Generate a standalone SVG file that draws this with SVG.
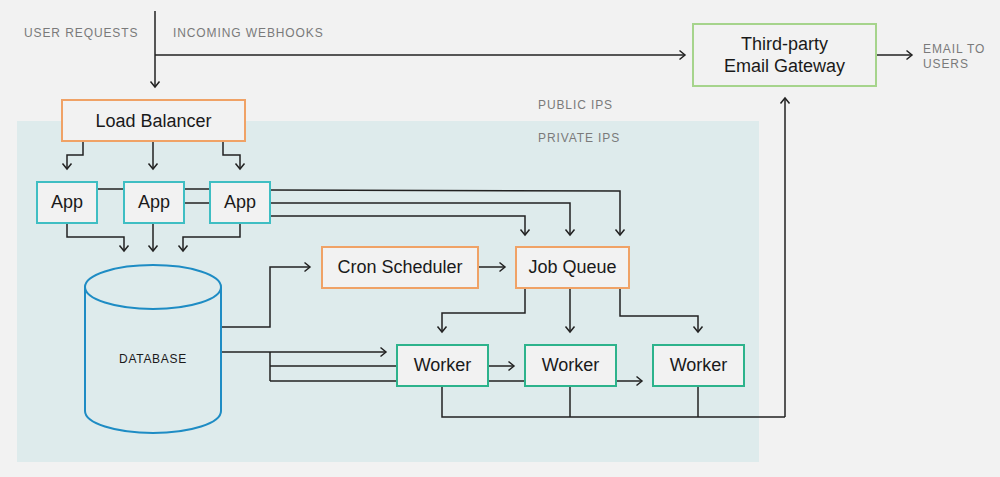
<svg xmlns="http://www.w3.org/2000/svg" width="1000" height="477" viewBox="0 0 1000 477">
<defs>
<marker id="arr" markerUnits="userSpaceOnUse" markerWidth="14" markerHeight="14" viewBox="-8 -7 10 14" refX="0" refY="0" orient="auto">
<path d="M-5.5,-4.5 L0,0 L-5.5,4.5" fill="none" stroke="#222" stroke-width="1.5"/>
</marker>
<style>
.lbl{font-family:"Liberation Sans",Arial,sans-serif;font-size:12px;letter-spacing:0.9px;fill:#7a7a7a}
.t{font-family:"Liberation Sans",Arial,sans-serif;font-size:18px;fill:#1a1a1a;text-anchor:middle}
.box{fill:#f2f2f2;stroke-width:2}
.or{stroke:#f0a266}
.tl{stroke:#3fbec3}
.gr{stroke:#2db38c}
.lg{stroke:#a6d48c}
.ln{fill:none;stroke:#222;stroke-width:1.5}
.a{marker-end:url(#arr)}
</style>
</defs>
<rect width="1000" height="477" fill="#f2f2f2"/>
<rect x="17" y="121" width="742" height="341" fill="#deebec"/>

<g id="labels">
<text class="lbl" x="24" y="37">USER REQUESTS</text>
<text class="lbl" x="173" y="37">INCOMING WEBHOOKS</text>
<text class="lbl" x="538" y="109">PUBLIC IPS</text>
<text class="lbl" x="538" y="142">PRIVATE IPS</text>
<text class="lbl" x="923" y="53">EMAIL TO</text>
<text class="lbl" x="923" y="68">USERS</text>
</g>

<g id="connectors">
<path class="ln a" d="M155,11 V87"/>
<path class="ln a" d="M155,55 H685"/>
<path class="ln a" d="M876,55 H912"/>
<!-- LB to apps -->
<path class="ln a" d="M83,141 V155 H67 V169"/>
<path class="ln a" d="M153,141 V169"/>
<path class="ln a" d="M223,141 V155 H240 V169"/>
<!-- app interconnect -->
<path class="ln" d="M97,189 H124"/>
<path class="ln" d="M184,189 H210"/>
<path class="ln" d="M184,203 H210"/>
<path class="ln a" d="M270,190 L620,191 V235"/>
<path class="ln a" d="M270,203 H570 V235"/>
<path class="ln a" d="M270,216 H525 V235"/>
<!-- apps to db -->
<path class="ln a" d="M67,223 V237 H124 V251"/>
<path class="ln a" d="M153,223 V251"/>
<path class="ln a" d="M240,223 V237 H183 V251"/>
<!-- db to cron -->
<path class="ln a" d="M221,327 H270 V267 H310"/>
<path class="ln a" d="M478,267 H505"/>
<!-- job queue to workers -->
<path class="ln a" d="M525,288 V313 H442 V332"/>
<path class="ln a" d="M570,288 V332"/>
<path class="ln a" d="M620,288 V316 H698 V332"/>
<!-- db to workers -->
<path class="ln a" d="M221,352 H386"/>
<path class="ln" d="M270,352 V381"/>
<path class="ln" d="M270,366 H397"/>
<path class="ln a" d="M488,366 H514"/>
<path class="ln" d="M270,381 H397"/>
<path class="ln" d="M488,381 H525"/>
<path class="ln a" d="M616,381 H642"/>
<!-- workers to gateway -->
<path class="ln" d="M442,386 V417 H785"/>
<path class="ln" d="M570,386 V417"/>
<path class="ln" d="M698,386 V417"/>
<path class="ln a" d="M785,417 V98"/>
</g>

<g id="gateway">
<rect class="box lg" x="693" y="24" width="183" height="62"/>
<text class="t" x="784.5" y="50">Third-party</text>
<text class="t" x="784.5" y="72">Email Gateway</text>
</g>

<g id="loadbalancer">
<rect class="box or" x="62" y="100" width="183" height="41"/>
<text class="t" x="153.5" y="127">Load Balancer</text>
</g>

<g id="app1">
<rect class="box tl" x="37" y="182" width="60" height="41"/>
<text class="t" x="67" y="208">App</text>
</g>
<g id="app2">
<rect class="box tl" x="124" y="182" width="60" height="41"/>
<text class="t" x="154" y="208">App</text>
</g>
<g id="app3">
<rect class="box tl" x="210" y="182" width="60" height="41"/>
<text class="t" x="240" y="208">App</text>
</g>

<g id="database">
<path d="M85,287 V411 A68,22 0 0 0 221,411 V287" fill="#deebec" stroke="#1e8cc4" stroke-width="2"/>
<ellipse cx="153" cy="287" rx="68" ry="22" fill="#deebec" stroke="#1e8cc4" stroke-width="2"/>
<text x="153" y="363" text-anchor="middle" font-family="Liberation Sans, Arial, sans-serif" font-size="12" letter-spacing="0.7" fill="#1a1a1a">DATABASE</text>
</g>

<g id="cron">
<rect class="box or" x="322" y="247" width="156" height="41"/>
<text class="t" x="400" y="273">Cron Scheduler</text>
</g>

<g id="jobqueue">
<rect class="box or" x="516" y="247" width="113" height="41"/>
<text class="t" x="572.5" y="273">Job Queue</text>
</g>

<g id="worker1">
<rect class="box gr" x="397" y="345" width="91" height="41"/>
<text class="t" x="442.5" y="371">Worker</text>
</g>
<g id="worker2">
<rect class="box gr" x="525" y="345" width="91" height="41"/>
<text class="t" x="570.5" y="371">Worker</text>
</g>
<g id="worker3">
<rect class="box gr" x="653" y="345" width="91" height="41"/>
<text class="t" x="698.5" y="371">Worker</text>
</g>
</svg>
